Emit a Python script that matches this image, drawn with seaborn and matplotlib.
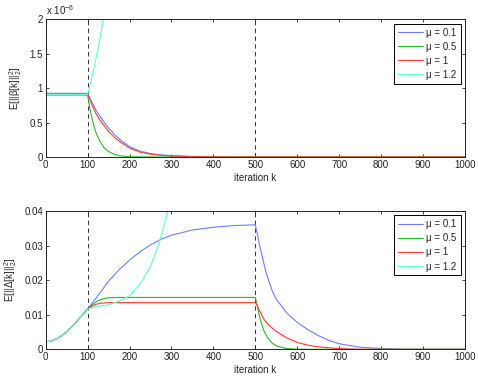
import pandas as pd
import seaborn as sns
import matplotlib
matplotlib.use("Agg")
import matplotlib.pyplot as plt

# ---- data ----
mu_labels = ["\u03bc = 0.1", "\u03bc = 0.5", "\u03bc = 1", "\u03bc = 1.2"]
colors = ["#6f7fff", "#2fb52f", "#ff3b3b", "#66ffcc"]

# top panel: E||beta[k]||^2 (units of 1e-6)
top_k_01 = [0, 100, 110, 120, 130, 140, 150, 165, 180, 200, 225, 250, 275, 300, 350, 400, 450, 1000]
top_v_01 = [0.925, 0.925, 0.80, 0.68, 0.59, 0.50, 0.42, 0.32, 0.24, 0.15, 0.085, 0.05, 0.03, 0.02, 0.007, 0.002, 0.0, 0.0]
top_k_05 = [0, 100, 105, 110, 115, 120, 130, 140, 150, 165, 180, 200, 225, 250, 1000]
top_v_05 = [0.90, 0.90, 0.72, 0.57, 0.45, 0.35, 0.22, 0.13, 0.08, 0.035, 0.015, 0.005, 0.001, 0.0, 0.0]
top_k_1 = [0, 100, 110, 120, 130, 140, 150, 165, 180, 200, 225, 250, 275, 300, 350, 400, 450, 1000]
top_v_1 = [0.915, 0.915, 0.76, 0.63, 0.53, 0.45, 0.37, 0.28, 0.21, 0.13, 0.07, 0.04, 0.025, 0.015, 0.005, 0.001, 0.0, 0.0]
top_k_12 = [0, 100, 110, 120, 130, 140, 150]
top_v_12 = [0.91, 0.91, 1.15, 1.43, 1.74, 2.10, 2.50]

# bottom panel: E||Delta[k]||^2
ramp_k = [0, 10, 20, 30, 40, 50, 60, 70, 80, 90, 100]
ramp_v = [0.0022, 0.0023, 0.0027, 0.0033, 0.0041, 0.0051, 0.0063, 0.0075, 0.0089, 0.0103, 0.0116]

bot_k_01 = ramp_k + [110, 125, 150, 175, 200, 225, 250, 275, 300, 350, 400, 450, 500,
                     505, 510, 525, 540, 550, 575, 600, 625, 650, 675, 700, 750, 800, 850, 1000]
bot_v_01 = ramp_v + [0.0132, 0.0156, 0.0197, 0.0230, 0.0258, 0.0282, 0.0302, 0.0318, 0.0330,
                     0.0345, 0.0353, 0.0358, 0.0360, 0.0333, 0.0302, 0.0225, 0.0170, 0.0145,
                     0.0105, 0.0078, 0.0057, 0.0040, 0.0026, 0.0016, 0.0006, 0.0002, 0.0, 0.0]
bot_k_05 = ramp_k + [110, 120, 130, 140, 150, 175, 500, 505, 510, 520, 530, 540, 550, 575, 600, 1000]
bot_v_05 = ramp_v + [0.0128, 0.0137, 0.0143, 0.0147, 0.0149, 0.0150, 0.0150, 0.0125, 0.0095,
                     0.0055, 0.0032, 0.0018, 0.0010, 0.0002, 0.0, 0.0]
bot_k_1 = ramp_k + [110, 120, 130, 150, 500, 505, 510, 520, 530, 540, 550, 575, 600, 625, 650, 700, 750, 1000]
bot_v_1 = ramp_v + [0.0125, 0.0130, 0.0133, 0.0135, 0.0135, 0.0125, 0.0112, 0.0088, 0.0073,
                    0.0062, 0.0052, 0.0033, 0.0020, 0.0012, 0.0007, 0.0002, 0.0, 0.0]
bot_k_12 = ramp_k + [110, 125, 150, 175, 200, 225, 250, 270, 285, 295, 305]
bot_v_12 = ramp_v + [0.0120, 0.0124, 0.0129, 0.0139, 0.0155, 0.0188, 0.0240, 0.0305, 0.0370, 0.0420, 0.0480]

x_ticks = list(range(0, 1001, 100))
top_yticks = [0, 0.5e-6, 1e-6, 1.5e-6, 2e-6]
top_ylabels = ["0", "0.5", "1", "1.5", "2"]
bot_yticks = [0, 0.01, 0.02, 0.03, 0.04]
bot_ylabels = ["0", "0.01", "0.02", "0.03", "0.04"]
switch_points = [100, 500]


def long_frame(ks, vs, scale=1.0):
    rows = []
    for lab, k, v in zip(mu_labels, ks, vs):
        for kk, vv in zip(k, v):
            rows.append({"k": kk, "val": vv * scale, "mu": lab})
    return pd.DataFrame(rows)


top_df = long_frame([top_k_01, top_k_05, top_k_1, top_k_12],
                    [top_v_01, top_v_05, top_v_1, top_v_12], 1e-6)
bot_df = long_frame([bot_k_01, bot_k_05, bot_k_1, bot_k_12],
                    [bot_v_01, bot_v_05, bot_v_1, bot_v_12])

# ---- style ----
sns.set_style("ticks")
plt.rcParams["font.family"] = ["Liberation Sans", "DejaVu Sans"]
plt.rcParams["mathtext.fontset"] = "custom"
plt.rcParams["mathtext.rm"] = "Liberation Sans"
plt.rcParams["mathtext.it"] = "Liberation Sans"
plt.rcParams["font.size"] = 7
plt.rcParams["axes.linewidth"] = 0.7
plt.rcParams["axes.edgecolor"] = "#222222"
plt.rcParams["xtick.direction"] = "in"
plt.rcParams["ytick.direction"] = "in"
plt.rcParams["xtick.major.size"] = 2.5
plt.rcParams["ytick.major.size"] = 2.5
plt.rcParams["xtick.major.width"] = 0.6
plt.rcParams["ytick.major.width"] = 0.6

palette = dict(zip(mu_labels, colors))
fs = 7

fig = plt.figure(figsize=(4.78, 3.77), dpi=100)
ax1 = fig.add_axes([0.0956, 0.5836, 0.877, 0.3652])
ax2 = fig.add_axes([0.0956, 0.0735, 0.877, 0.3668])

sns.lineplot(data=top_df, x="k", y="val", hue="mu", palette=palette, ax=ax1,
             linewidth=0.8, sort=True, estimator=None)
sns.lineplot(data=bot_df, x="k", y="val", hue="mu", palette=palette, ax=ax2,
             linewidth=0.8, sort=True, estimator=None)

for ax, yt, yl in [(ax1, top_yticks, top_ylabels), (ax2, bot_yticks, bot_ylabels)]:
    for sp in switch_points:
        ax.axvline(sp, color="#333333", linestyle=(0, (4.5, 3.5)), linewidth=0.7, zorder=0)
    ax.set_xlim(0, 1000)
    ax.set_ylim(yt[0], yt[-1])
    ax.set_xticks(x_ticks)
    ax.set_yticks(yt)
    ax.set_yticklabels(yl)
    ax.tick_params(top=True, right=True, labelsize=fs, pad=2, colors="#222222")
    ax.set_xlabel("iteration k", fontsize=fs, labelpad=2)
    leg = ax.legend(loc="upper right", fontsize=fs, handlelength=2.6, labelspacing=0.42,
                    borderpad=0.4, borderaxespad=0.45, handletextpad=0.3,
                    fancybox=False, framealpha=1, edgecolor="black")
    leg.get_frame().set_linewidth(0.7)

ax1.text(0.0, 1.015, r"x 10$^{-6}$", transform=ax1.transAxes, fontsize=fs,
         ha="left", va="bottom", color="#222222")

ax1.set_ylabel(r"$\mathrm{E[||\beta[k]||_2^2]}$", fontsize=fs, labelpad=4)
ax2.set_ylabel(r"$\mathrm{E[||\Delta[k]||_2^2]}$", fontsize=fs, labelpad=4)

fig.savefig("out.png", dpi=100)
